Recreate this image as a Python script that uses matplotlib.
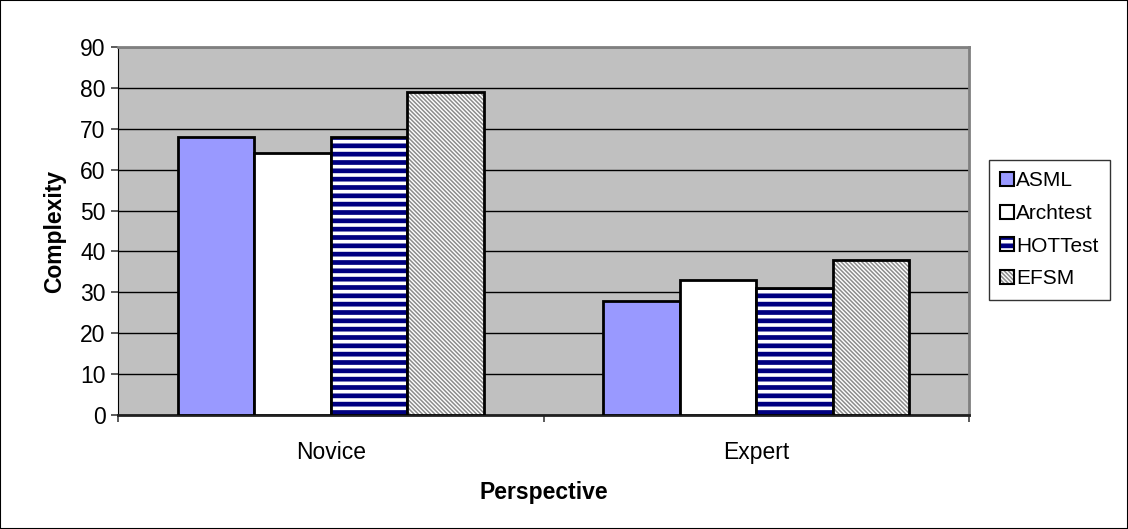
import matplotlib

matplotlib.use("Agg")

import matplotlib.pyplot as plt
import numpy as np
from matplotlib.colors import to_rgba
from matplotlib.patches import Rectangle

plt.rcParams["font.family"] = ["Liberation Sans", "DejaVu Sans"]

categories = ["Novice", "Expert"]
series_names = ["ASML", "Archtest", "HOTTest", "EFSM"]
asml = [68, 28]
archtest = [64, 33]
hottest = [68, 31]
efsm = [79, 38]
y_ticks = [0, 10, 20, 30, 40, 50, 60, 70, 80, 90]

series_values = [asml, archtest, hottest, efsm]
styles = [
    dict(facecolor="#9999FF", hatch=None, hatch_color=None, hlw=1.0),
    dict(facecolor="#FFFFFF", hatch=None, hatch_color=None, hlw=1.0),
    dict(facecolor="#FFFFFF", hatch="--", hatch_color="#000080", hlw=3.4),
    dict(facecolor="#FFFFFF", hatch="\\" * 8, hatch_color="#8C8C8C", hlw=1.1),
]


def style_hatch(patch, st):
    patch.set_edgecolor("black")
    if st["hatch"]:
        patch.set_hatch(st["hatch"])
        patch._hatch_color = to_rgba(st["hatch_color"])
        if hasattr(patch, "set_hatch_linewidth"):
            patch.set_hatch_linewidth(st["hlw"])
        else:
            patch._hatch_linewidth = st["hlw"]


fig = plt.figure(figsize=(11.28, 5.29), dpi=100)
ax = fig.add_axes([118 / 1128, 1 - 415 / 529, (969 - 118) / 1128, (415 - 47) / 529])
ax.set_facecolor("#C0C0C0")

x = np.arange(len(categories))
bar_w = 0.18
offsets = (np.arange(len(series_names)) - 1.5) * bar_w
for vals, off, st, name in zip(series_values, offsets, styles, series_names):
    bars = ax.bar(x + off, vals, width=bar_w, color=st["facecolor"],
                  edgecolor="black", linewidth=2.0, zorder=3, label=name)
    for b in bars:
        style_hatch(b, st)

ax.set_xlim(-0.5, 1.5)
ax.set_ylim(0, 90)
ax.set_yticks(y_ticks)
ax.yaxis.grid(True, color="black", linewidth=1.0, zorder=1)
ax.set_axisbelow(True)
ax.set_xticks(x)
ax.set_xticklabels(categories)
ax.set_xticks([-0.5, 0.5, 1.5], minor=True)
ax.tick_params(axis="x", which="major", length=0, pad=19, labelsize=16.5)
ax.tick_params(axis="x", which="minor", length=5, width=1.2, color="#404040")
ax.tick_params(axis="y", length=5, width=1.2, color="#404040", labelsize=16.5, pad=4)

for side in ["top", "right"]:
    ax.spines[side].set_color("#808080")
    ax.spines[side].set_linewidth(2.0)
ax.spines["left"].set_color("black")
ax.spines["bottom"].set_color("#202020")
ax.spines["bottom"].set_linewidth(2.0)

ax.set_ylabel("Complexity", fontsize=16.5, fontweight="bold", labelpad=10)
ax.set_xlabel("Perspective", fontsize=16.5, fontweight="bold", labelpad=12)

leg = ax.legend(loc="upper left", bbox_to_anchor=(989 / 1128, 1 - 160 / 529),
                bbox_transform=fig.transFigure, fontsize=15, frameon=True,
                fancybox=False, edgecolor="black", handlelength=0.65,
                handleheight=0.65, handletextpad=0.1, labelspacing=0.65,
                borderpad=0.55, borderaxespad=0)
leg.get_frame().set_linewidth(1.0)
for h, st in zip(leg.legend_handles, styles):
    h.set_linewidth(1.5)
    style_hatch(h, st)

fig.patches.append(Rectangle((0, 0), 1, 1, transform=fig.transFigure,
                             fill=False, edgecolor="black", linewidth=1.5))

fig.savefig("out.png", dpi=100)
